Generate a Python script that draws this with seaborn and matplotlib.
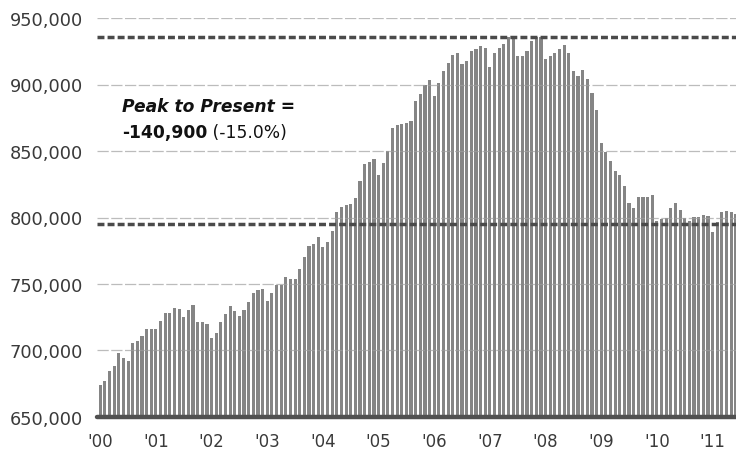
import matplotlib
matplotlib.use("Agg")
import matplotlib.pyplot as plt
import pandas as pd
import seaborn as sns

# monthly values, Jan 2000 onwards
values_2000 = [674100, 677300, 684400, 688100, 698100, 694100, 691900, 705400, 707400, 710700, 716200, 716200]
values_2001 = [715800, 722400, 728200, 728200, 731700, 731400, 725000, 730500, 734500, 721700, 721700, 720000]
values_2002 = [709200, 713200, 721700, 727500, 733700, 729500, 726200, 730700, 736300, 743000, 745500, 746300]
values_2003 = [737500, 743000, 749300, 749300, 755500, 753800, 753800, 761300, 770100, 778400, 780100, 785100]
values_2004 = [777600, 781400, 790100, 803900, 807700, 809700, 810200, 814700, 827200, 840300, 841500, 844000]
values_2005 = [832000, 840800, 850300, 867100, 869600, 870300, 870800, 872800, 887900, 892900, 899800, 903400]
values_2006 = [891600, 900900, 910400, 915900, 922200, 923700, 915400, 917400, 925100, 926700, 929200, 927200]
values_2007 = [912900, 923700, 927400, 930500, 936000, 935500, 921200, 921200, 924900, 932400, 935500, 935500]
values_2008 = [919200, 921200, 923700, 926700, 929700, 923500, 910400, 906600, 910700, 904200, 893400, 881000]
values_2009 = [856000, 849000, 842300, 835200, 832000, 824000, 810700, 807000, 815200, 815200, 815200, 817000]
values_2010 = [797600, 798900, 799600, 807000, 810700, 806000, 799400, 797100, 800200, 800700, 802000, 801500]
values_2011 = [789400, 796600, 803900, 805100, 804500, 803000]

year_labels = ["'00", "'01", "'02", "'03", "'04", "'05", "'06", "'07", "'08", "'09", "'10", "'11"]
y_ticks = [650000, 700000, 750000, 800000, 850000, 900000, 950000]

peak_value = 935800
present_value = 794900

values = (values_2000 + values_2001 + values_2002 + values_2003 + values_2004 + values_2005
          + values_2006 + values_2007 + values_2008 + values_2009 + values_2010 + values_2011)
months = pd.date_range("2000-01-01", periods=len(values), freq="MS").strftime("%Y-%m")
df = pd.DataFrame({"month": months, "jobs": values})

sns.set_style("white")
plt.rcParams["font.family"] = ["DejaVu Sans"]

fig = plt.figure(figsize=(7.36, 4.52), dpi=100)
ax = fig.add_axes([97 / 736, 34 / 452, 639 / 736, 399 / 452])

sns.barplot(data=df, x="month", y="jobs", color="#858585", saturation=1, width=0.68,
            linewidth=0, antialiased=False, ax=ax)

ax.set_ylim(650000, 950000)
ax.set_xlim(-0.7, len(values) - 0.95)

ax.set_axisbelow(False)
ax.yaxis.grid(True, color="#a0a0a0", lw=0.9, ls=(0, (9, 2)), alpha=0.7)
ax.xaxis.grid(False)

# peak and present reference lines
ax.axhline(peak_value, color="#4a4a4a", lw=2.5, ls=(0, (2, 0.9)), zorder=5)
ax.axhline(present_value, color="#4a4a4a", lw=2.5, ls=(0, (2, 0.9)), zorder=5)
ax.axhline(650000, color="#505050", lw=3.2, clip_on=False, zorder=6)

ax.set_yticks(y_ticks)
ax.set_yticklabels([f"{v:,}" for v in y_ticks])
ax.set_xticks(range(0, len(values), 12))
ax.set_xticklabels(year_labels)
ax.tick_params(axis="y", length=0, pad=10, labelsize=12.8, colors="#3a3a3a")
ax.tick_params(axis="x", length=0, pad=11, labelsize=12, colors="#3a3a3a")
ax.set_xlabel("")
ax.set_ylabel("")
sns.despine(ax=ax, left=True, bottom=True)

ax.text(0.039, 0.767, "Peak to Present =", transform=ax.transAxes, fontsize=12.3,
        fontweight="bold", fontstyle="italic", color="#111111", va="baseline")
t1 = ax.text(0.039, 0.702, "-140,900", transform=ax.transAxes, fontsize=12.3,
             fontweight="bold", color="#111111", va="baseline")
ax.annotate(" (-15.0%)", xy=(1, 0), xycoords=t1, va="bottom", fontsize=12.3, color="#111111")

fig.savefig("out.png", dpi=100)
